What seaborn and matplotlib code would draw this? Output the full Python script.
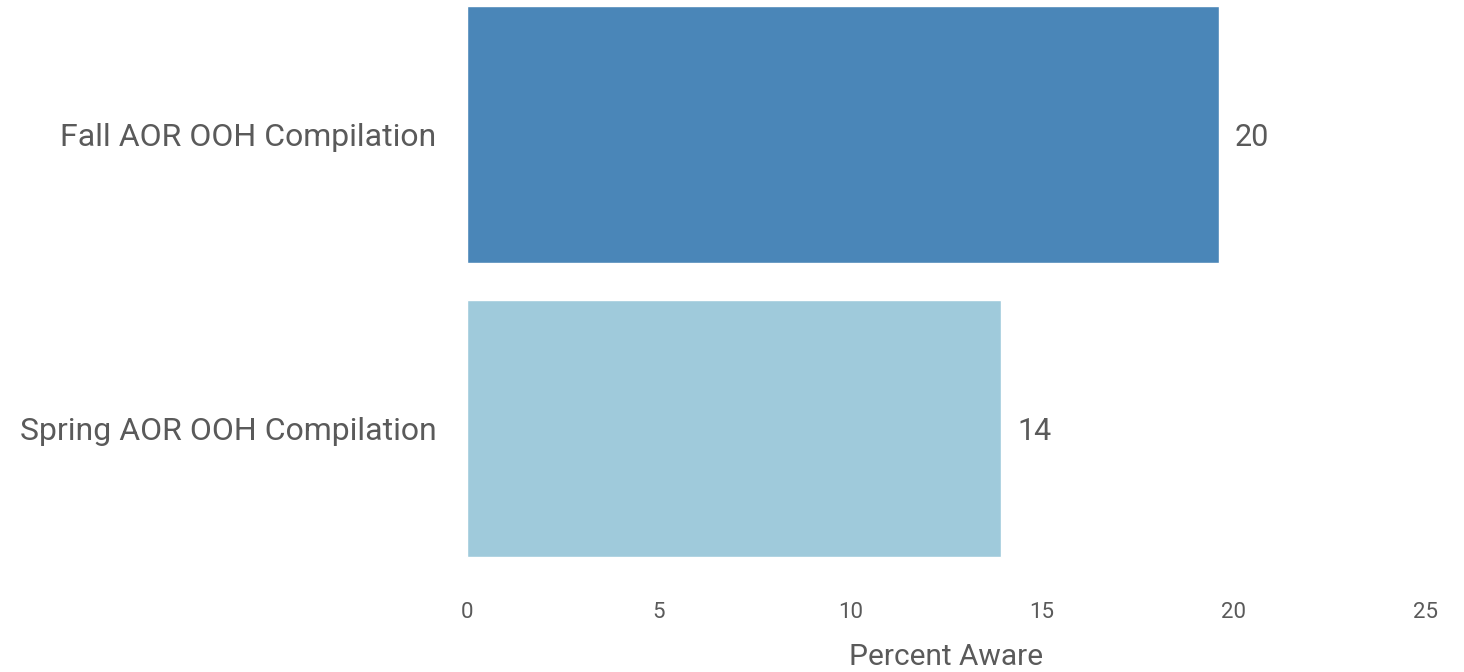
import matplotlib
matplotlib.use("Agg")
import matplotlib.pyplot as plt
import seaborn as sns
import pandas as pd

categories = ["Fall AOR OOH Compilation", "Spring AOR OOH Compilation"]
values = [19.62, 13.94]
value_labels = ["20", "14"]
colors = ["#4a86b8", "#9fcadb"]
xticks = [0, 5, 10, 15, 20, 25]

sns.set_theme(style="white")
plt.rcParams['font.family'] = ['Roboto', 'DejaVu Sans']
text_color = "#5a5a5a"

df = pd.DataFrame({"cat": categories, "val": values})

W, H = 1464, 672
fig = plt.figure(figsize=(W / 100, H / 100), dpi=100)
left, right = 467, 1425
top, bottom = 0, 580
ax = fig.add_axes([left / W, 1 - bottom / H, (right - left) / W, (bottom - top) / H])

sns.barplot(data=df, y="cat", x="val", hue="cat", palette=colors, orient="h",
            width=0.873, ax=ax, legend=False, saturation=1)

ax.set_xlim(0, 25)
ax.set_ylim(1.513, -0.457)
ax.set_xticks(xticks)
ax.set_xticklabels([str(t) for t in xticks])
for s in ax.spines.values():
    s.set_visible(False)
ax.tick_params(axis="x", length=0, pad=16, labelsize=16, labelcolor=text_color)
ax.tick_params(axis="y", length=0, pad=22, labelsize=23, labelcolor=text_color)
ax.set_ylabel("")
ax.set_xlabel("Percent Aware", fontsize=21.5, color=text_color, labelpad=14)

for i, (v, lab) in enumerate(zip(values, value_labels)):
    ax.annotate(lab, xy=(v, i), xytext=(16, -3), textcoords="offset pixels",
                va="center", ha="left", fontsize=22, color=text_color)

fig.savefig("out.png", dpi=100)
